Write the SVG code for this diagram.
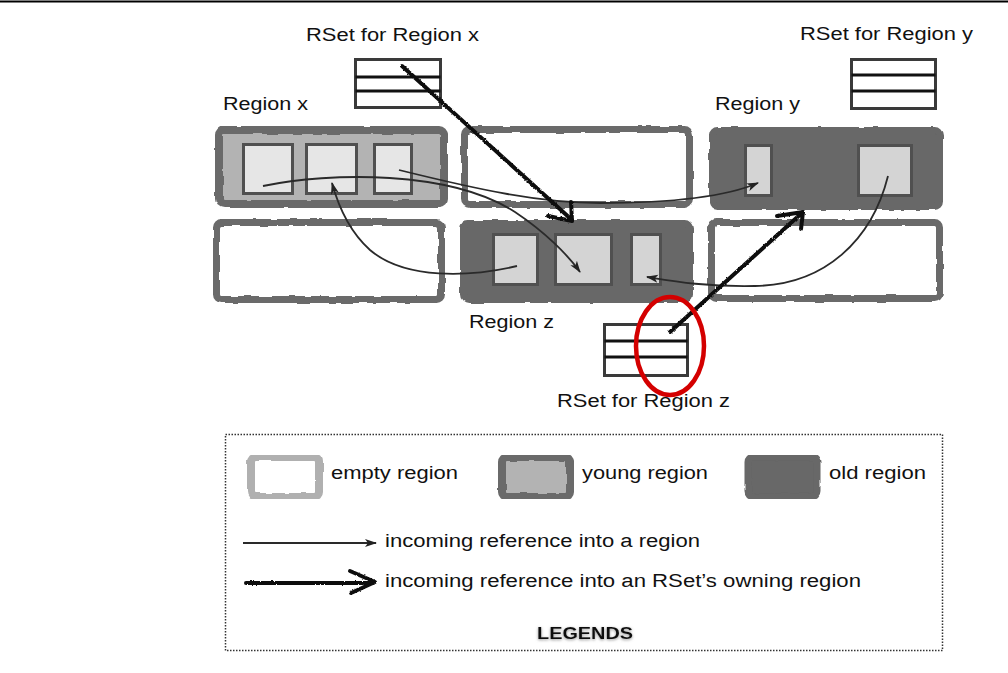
<svg xmlns="http://www.w3.org/2000/svg" width="1008" height="673" viewBox="0 0 1008 673">
  <defs>
    <filter id="rough" x="-5%" y="-5%" width="110%" height="110%">
      <feTurbulence type="fractalNoise" baseFrequency="0.07" numOctaves="2" seed="3" result="n"/>
      <feDisplacementMap in="SourceGraphic" in2="n" scale="3" xChannelSelector="R" yChannelSelector="G"/>
    </filter>
    <filter id="jag" x="-10%" y="-10%" width="120%" height="120%">
      <feTurbulence type="fractalNoise" baseFrequency="0.5" numOctaves="1" seed="5" result="n"/>
      <feDisplacementMap in="SourceGraphic" in2="n" scale="2.5" xChannelSelector="R" yChannelSelector="G"/>
    </filter>
    <filter id="shadow" x="-20%" y="-50%" width="140%" height="200%">
      <feDropShadow dx="0" dy="1" stdDeviation="1.5" flood-color="#777" flood-opacity="0.8"/>
    </filter>
    <marker id="ah" markerUnits="userSpaceOnUse" markerWidth="12" markerHeight="10" refX="11" refY="5" orient="auto">
      <path d="M0,1 L12,5 L0,9 L3,5 z" fill="#222"/>
    </marker>
  </defs>
  <style>
    .empty { fill: #ffffff; stroke: #6b6b6b; stroke-width: 7; }
    .young { fill: #b3b3b3; stroke: #6b6b6b; stroke-width: 8; }
    .old { fill: #676767; stroke: #676767; stroke-width: 7; }
    .cardL { fill: #e6e6e6; stroke: #505050; stroke-width: 3; }
    .card { fill: #d4d4d4; stroke: #505050; stroke-width: 3; }
    .rset { fill: #ffffff; stroke: #3a3a3a; stroke-width: 3; }
    .rline { stroke: #111; stroke-width: 3; }
    .thin { fill: none; stroke: #2a2a2a; stroke-width: 1.8; marker-end: url(#ah); }
    .thick { fill: none; stroke: #111; stroke-width: 4; stroke-linecap: round; stroke-linejoin: round; }
    .lbl { font-family: "Liberation Sans", Arial, sans-serif; font-size: 18px; fill: #111; }
    .bold { font-weight: bold; font-size: 16px; }
  </style>

  <line x1="0" y1="1.5" x2="1008" y2="1.5" stroke="#000" stroke-width="2"/>

  <g id="region-x">
    <rect class="young" x="219" y="130" width="225" height="74" rx="5" filter="url(#rough)"/>
    <rect class="cardL" x="243.5" y="144.5" width="49" height="49"/>
    <rect class="cardL" x="306.5" y="144.5" width="50" height="49"/>
    <rect class="cardL" x="374.5" y="144.5" width="37" height="49"/>
  </g>
  <g id="region-empty-top">
    <rect class="empty" x="464.5" y="129.5" width="225" height="75" rx="5" filter="url(#rough)"/>
  </g>
  <g id="region-y">
    <rect class="old" x="712.5" y="130.5" width="227" height="76" rx="5" filter="url(#rough)"/>
    <rect class="card" x="745.5" y="145.5" width="26" height="50"/>
    <rect class="card" x="858.5" y="145.5" width="53" height="50"/>
  </g>
  <g id="region-empty-bottom-left">
    <rect class="empty" x="216.5" y="222.5" width="225" height="77" rx="5" filter="url(#rough)"/>
  </g>
  <g id="region-z">
    <rect class="old" x="463.5" y="223.5" width="226" height="76" rx="5" filter="url(#rough)"/>
    <rect class="card" x="493.5" y="234.5" width="44" height="50"/>
    <rect class="card" x="555.5" y="234.5" width="56" height="50"/>
    <rect class="card" x="631.5" y="234.5" width="29" height="50"/>
  </g>
  <g id="region-empty-bottom-right">
    <rect class="empty" x="711.5" y="222.5" width="228" height="76" rx="5" filter="url(#rough)"/>
  </g>

  <g id="rset-x">
    <rect class="rset" x="355.5" y="59.5" width="85" height="48"/>
    <line class="rline" x1="355.5" y1="77" x2="440.5" y2="77"/>
    <line class="rline" x1="355.5" y1="91" x2="440.5" y2="91"/>
  </g>
  <g id="rset-y">
    <rect class="rset" x="851.5" y="59.5" width="84" height="49"/>
    <line class="rline" x1="851.5" y1="75" x2="935.5" y2="75"/>
    <line class="rline" x1="851.5" y1="91" x2="935.5" y2="91"/>
  </g>
  <g id="rset-z">
    <rect class="rset" x="604.5" y="324.5" width="83" height="51"/>
    <line class="rline" x1="604.5" y1="341" x2="687.5" y2="341"/>
    <line class="rline" x1="604.5" y1="357" x2="687.5" y2="357"/>
  </g>

  <g id="connectors">
    <path class="thin" d="M263,186 C330,172 450,170 515,212 C545,232 568,255 580,272"/>
    <path class="thin" d="M399,170 C480,190 540,203 600,203 C670,203 725,197 758,183"/>
    <path class="thin" d="M517,266 C470,277 405,280 370,250 C350,232 338,205 332,183"/>
    <path class="thin" d="M888,176 C872,240 825,285 755,286 C705,287 672,281 647,277"/>
    <g filter="url(#jag)">
      <path class="thick" d="M402,66 L572,220"/>
      <path class="thick" d="M548,216 L572,221 L571,202"/>
      <path class="thick" d="M670,332 L803,212"/>
      <path class="thick" d="M777,216 L803,212 L801,229"/>
    </g>
  </g>

  <g id="labels">
    <text class="lbl" x="306" y="41" textLength="173" lengthAdjust="spacingAndGlyphs">RSet for Region x</text>
    <text class="lbl" x="800" y="40" textLength="173" lengthAdjust="spacingAndGlyphs">RSet for Region y</text>
    <text class="lbl" x="223" y="110" textLength="85" lengthAdjust="spacingAndGlyphs">Region x</text>
    <text class="lbl" x="715" y="110" textLength="85" lengthAdjust="spacingAndGlyphs">Region y</text>
    <text class="lbl" x="469" y="328" textLength="85" lengthAdjust="spacingAndGlyphs">Region z</text>
    <text class="lbl" x="557" y="407" textLength="173" lengthAdjust="spacingAndGlyphs">RSet for Region z</text>
  </g>

  <g id="legend">
    <rect x="225.5" y="434.5" width="717" height="216" fill="none" stroke="#333" stroke-width="1.5" stroke-dasharray="1.5 1.5"/>
    <g filter="url(#rough)">
      <rect x="251" y="457" width="68" height="40" rx="5" fill="#fff" stroke="#b0b0b0" stroke-width="8"/>
      <rect class="young" x="502" y="457" width="68" height="40" rx="5"/>
      <rect class="old" x="748" y="457" width="69" height="40" rx="5"/>
    </g>
    <text class="lbl" x="331" y="479" textLength="127" lengthAdjust="spacingAndGlyphs">empty region</text>
    <text class="lbl" x="582" y="479" textLength="126" lengthAdjust="spacingAndGlyphs">young region</text>
    <text class="lbl" x="829" y="479" textLength="97" lengthAdjust="spacingAndGlyphs">old region</text>
    <path class="thin" d="M243,543 L376,543"/>
    <text class="lbl" x="385" y="547" textLength="315" lengthAdjust="spacingAndGlyphs">incoming reference into a region</text>
    <g filter="url(#jag)">
      <path class="thick" d="M246,583 L373,583"/>
      <path class="thick" d="M350,571 L375,582 L351,593"/>
    </g>
    <text class="lbl" x="385" y="587" textLength="476" lengthAdjust="spacingAndGlyphs">incoming reference into an RSet’s owning region</text>
    <text class="lbl bold" x="537" y="639" textLength="96" lengthAdjust="spacingAndGlyphs" filter="url(#shadow)">LEGENDS</text>
  </g>

  <ellipse id="highlight" cx="670" cy="346" rx="34" ry="49" fill="none" stroke="#d40000" stroke-width="4.5"/>
</svg>
